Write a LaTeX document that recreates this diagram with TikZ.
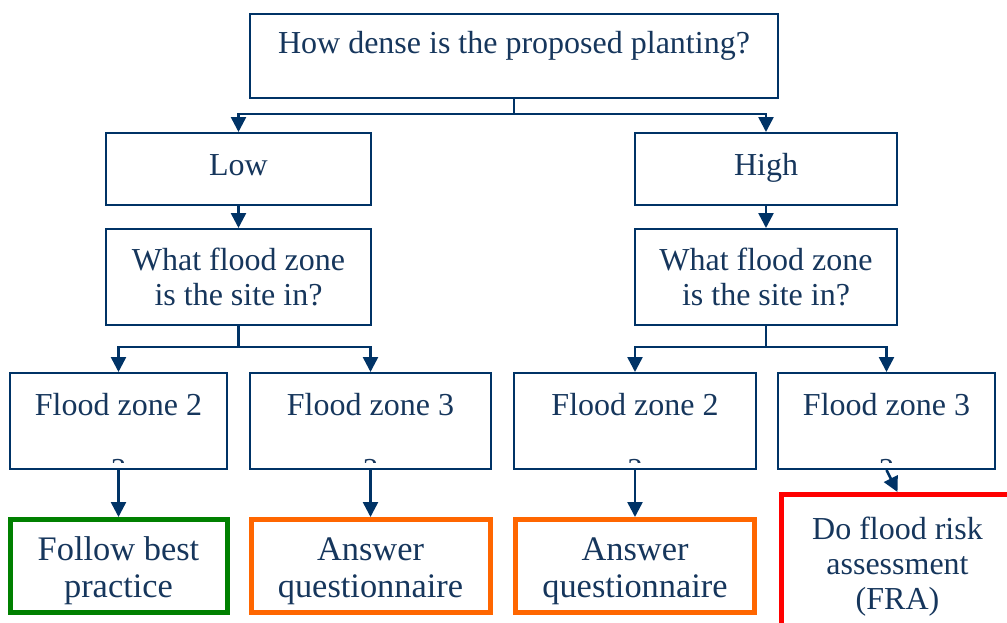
\documentclass[tikz,border=0pt]{standalone}
\usepackage{fontspec}
\setmainfont{Liberation Serif}
\usetikzlibrary{arrows.meta}
\definecolor{navyline}{RGB}{0,51,102}
\definecolor{navytext}{RGB}{22,54,92}
\definecolor{goodgreen}{RGB}{0,128,0}
\definecolor{warnorange}{RGB}{255,102,0}
\definecolor{stopred}{RGB}{255,0,0}
\newcommand{\tallstrut}{\rule{0pt}{17pt}}
\tikzset{
  box/.style={draw=navyline, line width=1pt, inner sep=2pt, align=center,
    text=navytext, font=\fontsize{16}{17.5}\selectfont},
  outcome/.style={box, line width=2.5pt},
  bigtext/.style={font=\fontsize{17.2}{18.5}\selectfont},
  link/.style={draw=navyline, line width=1.25pt, -{Triangle[length=7.5pt, width=7.5pt]}},
  bar/.style={draw=navyline, line width=1.25pt},
  cutoff/.style={text=navytext, font=\fontsize{16}{17.5}\selectfont, inner sep=0pt, anchor=base},
}
\begin{document}
\begin{tikzpicture}[x=0.5pt, y=-0.5pt]
\useasboundingbox (0,0) rectangle (1007,622);
\clip (0,0) rectangle (1007,622);
% question and density
\node[box, minimum width=264pt, minimum height=42pt, text height=11pt, text depth=13.4pt] (dense) at (514,56) {How dense is the proposed planting?};
\node[box, minimum width=132.5pt, minimum height=36pt, text height=11pt, text depth=4.4pt] (low) at (238.5,169) {Low};
\node[box, minimum width=131pt, minimum height=36pt, text height=11pt, text depth=4.4pt] (high) at (766,169) {High};
\node[box, minimum width=132.5pt, minimum height=48pt] (qlow) at (238.5,277) {What flood zone\\is the site in?};
\node[box, minimum width=131pt, minimum height=48pt] (qhigh) at (766,277) {What flood zone\\is the site in?};
% flood zones
\node[box, minimum width=108.5pt, minimum height=48pt, text height=11pt, text depth=16.4pt] (fzl2) at (118.5,421) {Flood zone 2};
\node[box, minimum width=120.5pt, minimum height=48pt, text height=11pt, text depth=16.4pt] (fzl3) at (370.5,421) {Flood zone 3};
\node[box, minimum width=121pt, minimum height=48pt, text height=11pt, text depth=16.4pt] (fzr2) at (635,421) {Flood zone 2};
\node[box, minimum width=108.5pt, minimum height=48pt, text height=11pt, text depth=16.4pt] (fzr3) at (886.5,421) {Flood zone 3};
\foreach \n in {fzl2,fzl3,fzr2,fzr3}{
  \begin{scope}
    \clip (\n.north west) rectangle ([yshift=4pt]\n.south east);
    \node[cutoff] (\n-q) at ([yshift=-5pt]\n.south) {?};
  \end{scope}
}
% outcomes
\node[outcome, bigtext, draw=goodgreen, minimum width=108.5pt, minimum height=46.5pt] (best) at (118.5,566) {\tallstrut Follow best\\practice};
\node[outcome, bigtext, draw=warnorange, minimum width=119.5pt, minimum height=46.5pt] (askl) at (370.5,566) {\tallstrut Answer\\questionnaire};
\node[outcome, bigtext, draw=warnorange, minimum width=119.5pt, minimum height=46.5pt] (askr) at (635,566) {\tallstrut Answer\\questionnaire};
\node[outcome, draw=stopred, minimum width=116.5pt, minimum height=72.5pt] (fra) at (897.5,567) {Do flood risk\\assessment\\(FRA)};
% connectors
\coordinate (split) at (514,114);
\coordinate (splitl) at (238.5,347);
\coordinate (splitr) at (766,347);
\draw[bar] (dense.south) -- (split);
\draw[link] (split) -| (low.north);
\draw[link] (split) -| (high.north);
\draw[link] (low) -- (qlow);
\draw[link] (high) -- (qhigh);
\draw[bar] (qlow.south) -- (splitl);
\draw[link] (splitl) -| (fzl2.north);
\draw[link] (splitl) -| (fzl3.north);
\draw[bar] (qhigh.south) -- (splitr);
\draw[link] (splitr) -| (fzr2.north);
\draw[link] (splitr) -| (fzr3.north);
\draw[link] (fzl2) -- (best);
\draw[link] (fzl3) -- (askl);
\draw[link] (fzr2) -- (askr);
\draw[link] (fzr3.south) -- (fra.north);
\end{tikzpicture}
\end{document}
